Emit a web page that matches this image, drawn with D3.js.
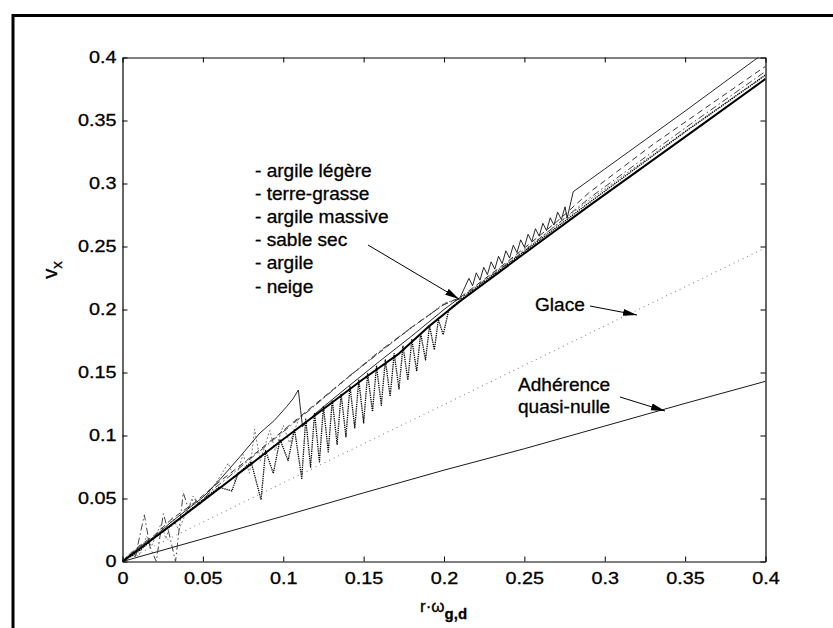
<!DOCTYPE html>
<html>
<head>
<meta charset="utf-8">
<script src="https://cdn.jsdelivr.net/npm/d3@7"></script>
<style>
html,body{margin:0;padding:0;background:#fff;}
svg{display:block;}
text{font-family:"Liberation Sans",Arial,Helvetica,sans-serif;fill:#000;stroke:#000;stroke-width:0.3px;}
</style>
</head>
<body>
<svg id="chart" width="833" height="628"></svg>
<script>
// ---------- data ----------
const xTicks = [0, 0.05, 0.1, 0.15, 0.2, 0.25, 0.3, 0.35, 0.4];
const xTickLabels = ["0", "0.05", "0.1", "0.15", "0.2", "0.25", "0.3", "0.35", "0.4"];
const yTicks = [0, 0.05, 0.1, 0.15, 0.2, 0.25, 0.3, 0.35, 0.4];
const yTickLabels = ["0", "0.05", "0.1", "0.15", "0.2", "0.25", "0.3", "0.35", "0.4"];

const soilNames = ["- argile légère", "- terre-grasse", "- argile massive", "- sable sec", "- argile", "- neige"];

// argile légère (thin solid)
const seriesArgileLegere = [[0,0],[0.01,0.011],[0.02,0.02],[0.03,0.031],[0.04,0.041],[0.05,0.051],[0.0544,0.0567],[0.062,0.067],[0.0731,0.0832],[0.0855,0.102],[0.0945,0.112],[0.1021,0.1229],[0.106,0.129],[0.1094,0.1361],[0.1108,0.12],[0.112,0.107],[0.12,0.1175],[0.14,0.1385],[0.16,0.159],[0.18,0.179],[0.2,0.2],[0.21,0.2095],
 [0.2155,0.2247],[0.2178,0.2189],[0.2201,0.2291],[0.2224,0.2233],[0.2247,0.2335],[0.2270,0.2277],[0.2293,0.2378],[0.2316,0.2320],[0.2339,0.2422],[0.2362,0.2364],[0.2385,0.2466],[0.2408,0.2408],[0.2431,0.2510],[0.2454,0.2451],[0.2477,0.2553],[0.2500,0.2495],[0.2523,0.2597],[0.2546,0.2539],[0.2569,0.2641],[0.2592,0.2582],[0.2615,0.2684],[0.2638,0.2626],[0.2661,0.2728],[0.2684,0.2670],[0.2707,0.2772],[0.2730,0.2714],[0.2753,0.2815],[0.2766,0.2725],
 [0.2804,0.2935],[0.3,0.3115],[0.35,0.3575],[0.3945,0.3992],[0.4,0.4045]];
// terre-grasse (dashed)
const seriesTerreGrasse = [[0,0],[0.01,0.012],[0.02,0.021],[0.03,0.033],[0.045,0.047],[0.06,0.063],[0.08,0.083],[0.1,0.104],[0.12,0.125],[0.14,0.146],[0.16,0.166],[0.18,0.186],[0.2,0.204],[0.21,0.2095],[0.24,0.2385],[0.27,0.2695],[0.29,0.2925],[0.33,0.331],[0.37,0.3665],[0.4,0.393]];
// argile massive (dash-dot)
const seriesArgileMassive = [[0,0],[0.004,0.006],[0.008,0.004],[0.0136,0.037],[0.017,0.012],[0.021,0.0],[0.0254,0.038],[0.029,0.022],[0.033,0.0],[0.0378,0.0546],[0.041,0.042],[0.044,0.05],[0.048,0.046],[0.055,0.056],[0.065,0.066],[0.08,0.082],[0.1,0.103],[0.12,0.124],[0.14,0.146],[0.16,0.167],[0.18,0.186],[0.2,0.204],[0.21,0.2085],[0.25,0.2465],[0.29,0.288],[0.35,0.344],[0.4,0.389]];
// sable sec (thick solid)
const seriesSableSec = [[0,0],[0.02,0.019],[0.05,0.048],[0.1,0.097],[0.15,0.145],[0.172,0.165],[0.19,0.186],[0.21,0.2065],[0.25,0.2445],[0.29,0.282],[0.35,0.337],[0.4,0.383]];
// argile (dotted, strong oscillation)
const seriesArgile = [[0,0],[0.01,0.008],[0.02,0.019],[0.03,0.028],[0.04,0.039],[0.05,0.049],[0.06,0.059],[0.068,0.056],[0.072,0.07],[0.08,0.079],[0.0862,0.049],[0.089,0.088],[0.0938,0.07],[0.098,0.097],[0.103,0.08],[0.107,0.105],[0.1115,0.066],
 [0.114,0.113],[0.117,0.075],[0.1195,0.118],[0.1225,0.079],[0.125,0.123],[0.128,0.087],[0.1305,0.128],[0.1335,0.093],[0.136,0.133],[0.139,0.099],[0.1415,0.139],[0.1445,0.106],[0.147,0.144],[0.15,0.110],[0.1525,0.149],[0.1555,0.119],[0.158,0.155],[0.161,0.124],[0.1635,0.160],[0.1665,0.131],[0.169,0.165],[0.172,0.137],[0.1745,0.171],[0.1775,0.144],[0.18,0.176],[0.183,0.151],[0.1855,0.181],[0.1885,0.160],[0.191,0.187],[0.194,0.168],[0.1965,0.192],[0.1995,0.180],[0.203,0.2],
 [0.21,0.2075],[0.25,0.246],[0.29,0.2845],[0.35,0.341],[0.4,0.386]];
// neige (grey dotted, oscillation above)
const seriesNeige = [[0,0],[0.006,0.008],[0.01,0.004],[0.015,0.02],[0.018,0.012],[0.024,0.03],[0.027,0.018],[0.031,0.035],[0.035,0.025],[0.044,0.052],[0.048,0.045],[0.058,0.062],[0.0658,0.078],[0.07,0.064],[0.075,0.085],[0.079,0.07],[0.0822,0.105],[0.0857,0.08],[0.0916,0.104],[0.095,0.088],[0.1,0.108],[0.104,0.094],[0.11,0.114],[0.13,0.135],[0.15,0.156],[0.17,0.176],[0.19,0.195],[0.2,0.205],[0.21,0.209],[0.25,0.2475],[0.29,0.2865],[0.35,0.3415],[0.4,0.3865]];
// Glace
const seriesGlace = [[0,0],[0.1,0.0625],[0.2,0.1245],[0.3,0.187],[0.4,0.249]];
// Adhérence quasi-nulle
const seriesAdherence = [[0,0],[0.05,0.018],[0.1,0.036],[0.15,0.0545],[0.2,0.0725],[0.25,0.0895],[0.3,0.1075],[0.35,0.1255],[0.4,0.143]];

// ---------- drawing ----------
const svg = d3.select("#chart");
const W = 833, H = 628;
const m = {left:122.5, right:765.5, top:57.5, bottom:561.5};
const x = d3.scaleLinear().domain([0,0.4]).range([m.left, m.right]);
const y = d3.scaleLinear().domain([0,0.4]).range([m.bottom, m.top]);

// outer scanned frame
svg.append("path").attr("d", `M13,${H+5} V15.5 H${W+5}`).attr("fill","none").attr("stroke","#000").attr("stroke-width",3);

const defs = svg.append("defs");
defs.append("clipPath").attr("id","plotclip").append("rect")
  .attr("x", m.left).attr("y", m.top).attr("width", m.right-m.left).attr("height", m.bottom-m.top);
defs.append("marker").attr("id","arrow").attr("viewBox","0 0 14 8").attr("refX",14).attr("refY",4)
  .attr("markerWidth",14).attr("markerHeight",8).attr("markerUnits","userSpaceOnUse").attr("orient","auto")
  .append("path").attr("d","M0,0.5 L14,4 L0,7.5 Z").attr("fill","#000");

const line = d3.line().x(d => x(d[0])).y(d => y(d[1]));
const plot = svg.append("g").attr("clip-path","url(#plotclip)");

const styles = [
  {data: seriesAdherence, stroke:"#1a1a1a", w:1, dash:null},
  {data: seriesGlace, stroke:"#8a8a8a", w:1.1, dash:"1,4"},
  {data: seriesNeige, stroke:"#7a7a7a", w:1, dash:"2,2"},
  {data: seriesTerreGrasse, stroke:"#333", w:1, dash:"6,4"},
  {data: seriesArgileMassive, stroke:"#444", w:1, dash:"7,3,1.5,3"},
  {data: seriesArgile, stroke:"#000", w:1.3, dash:"1.3,0.9"},
  {data: seriesArgileLegere, stroke:"#111", w:0.9, dash:null},
  {data: seriesSableSec, stroke:"#000", w:2, dash:null}
];
styles.forEach(s => {
  plot.append("path").datum(s.data).attr("d", line)
    .attr("fill","none").attr("stroke", s.stroke).attr("stroke-width", s.w)
    .attr("stroke-dasharray", s.dash).attr("stroke-linejoin","round");
});

// axes (MATLAB-style box, inward ticks)
function styleAxis(g){ g.select(".domain").attr("stroke","#000").attr("stroke-width",1.2);
  g.selectAll(".tick line").attr("stroke","#000").attr("stroke-width",1); }
const fsTick = 16.5, sxTick = 1.2;
const gx = svg.append("g").attr("transform",`translate(0,${m.bottom})`)
  .call(d3.axisBottom(x).tickValues(xTicks).tickFormat((d,i)=>xTickLabels[i]).tickSizeInner(-5).tickSizeOuter(0).tickPadding(11));
styleAxis(gx);
gx.selectAll("text").attr("font-size",fsTick).attr("transform",`scale(${sxTick},1)`).attr("font-family",null);
const gy = svg.append("g").attr("transform",`translate(${m.left},0)`)
  .call(d3.axisLeft(y).tickValues(yTicks).tickFormat((d,i)=>yTickLabels[i]).tickSizeInner(-5).tickSizeOuter(0).tickPadding(5));
styleAxis(gy);
gy.selectAll("text").attr("font-size",fsTick).attr("transform",`scale(${sxTick},1)`).attr("font-family",null);
const gt = svg.append("g").attr("transform",`translate(0,${m.top})`)
  .call(d3.axisTop(x).tickValues(xTicks).tickFormat("").tickSizeInner(-5).tickSizeOuter(0));
styleAxis(gt);
const gr = svg.append("g").attr("transform",`translate(${m.right},0)`)
  .call(d3.axisRight(y).tickValues(yTicks).tickFormat("").tickSizeInner(-5).tickSizeOuter(0));
styleAxis(gr);
svg.selectAll(".tick text").attr("fill","#000");

// text helper with slight horizontal stretch
function stext(str, px, py, size, sx){
  return svg.append("text").attr("transform",`translate(${px},${py}) scale(${sx},1)`)
    .attr("font-size", size).text(str);
}
const fsLab = 17.5, sxLab = 1.09;
const legendBase = [176.5, 199.7, 222.9, 246.1, 269.3, 292.5];
soilNames.forEach((n,i) => stext(n, 255, legendBase[i], fsLab, sxLab));
stext("Glace", 535, 311, fsLab, sxLab);
stext("Adhérence", 518, 391, fsLab, sxLab);
stext("quasi-nulle", 518, 413, fsLab, sxLab);

// annotation arrows
const arrows = [[368,245,459,299],[590,306,637,315],[620,397,665,411]];
arrows.forEach(a => svg.append("line").attr("x1",a[0]).attr("y1",a[1]).attr("x2",a[2]).attr("y2",a[3])
  .attr("stroke","#000").attr("stroke-width",1).attr("marker-end","url(#arrow)"));

// axis titles
const yl = svg.append("text").attr("transform","translate(57,270) rotate(-90)").attr("text-anchor","middle").attr("font-size",20);
yl.append("tspan").text("v");
yl.append("tspan").attr("dy",5).attr("font-size",15).text("x");
const xl = svg.append("text").attr("x",420).attr("y",612).attr("font-size",17);
xl.append("tspan").text("r·ω");
xl.append("tspan").attr("dy",7).attr("font-size",15).attr("font-weight","bold").text("g,d");
</script>
</body>
</html>
